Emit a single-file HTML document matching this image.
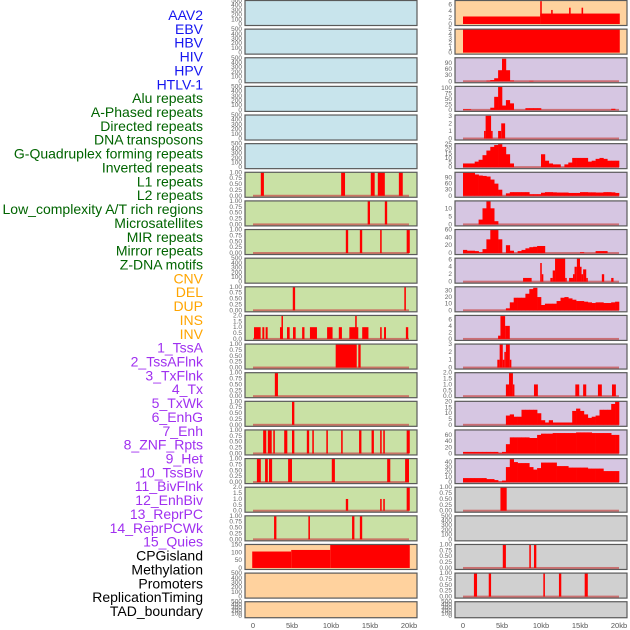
<!DOCTYPE html>
<html><head><meta charset="utf-8"><style>
html,body{margin:0;padding:0;background:#fff;}
svg{display:block;font-family:"Liberation Sans",sans-serif;}
</style></head><body>
<svg id="chart" width="630" height="630" viewBox="0 0 630 630"></svg>
<script>
// ---- labels ----
const labelNames = ["AAV2","EBV","HBV","HIV","HPV","HTLV-1","Alu repeats","A-Phased repeats","Directed repeats","DNA transposons","G-Quadruplex forming repeats","Inverted repeats","L1 repeats","L2 repeats","Low_complexity A/T rich regions","Microsatellites","MIR repeats","Mirror repeats","Z-DNA motifs","CNV","DEL","DUP","INS","INV","1_TssA","2_TssAFlnk","3_TxFlnk","4_Tx","5_TxWk","6_EnhG","7_Enh","8_ZNF_Rpts","9_Het","10_TssBiv","11_BivFlnk","12_EnhBiv","13_ReprPC","14_ReprPCWk","15_Quies","CPGisland","Methylation","Promoters","ReplicationTiming","TAD_boundary"];
const labelGroups = [6,13,5,15,5];
const groupColors = ["#1515f0","#006400","#ffa500","#a030f0","#000000"];
const xTickLabels = ["0","5kb","10kb","15kb","20kb"];
const xTickValues = [0,5,10,15,20];

// ---- left column panels ----
const leftBg = ["b","b","b","b","b","b","g","g","g","g","g","g","g","g","g","g","g","g","g","o","o","o"];
const leftYmax = [500,500,500,500,500,500,1,1,1,500,1,2,1,1,1,1,1,2,1,150,500,500];
const L6 = [[1.0,1.4,1],[11.3,11.8,1],[15.1,15.6,1],[16.0,16.9,1],[18.7,19.2,1]];
const L7 = [[14.7,15.0,1],[16.9,17.2,1]];
const L8 = [[11.9,12.2,1],[13.7,14.0,1],[16.3,16.5,1],[19.7,20.1,1]];
const L10 = [[5.1,5.4,1],[19.4,19.6,1]];
const L11 = [[0.13,0.98,1],[1.2,1.45,1],[1.62,1.88,1],[3.46,3.8,1],[3.65,3.8,2],[4.36,4.7,1],[5.13,5.47,1],[6.3,6.6,1],[7.3,8.2,1],[9.5,10.2,1],[11.0,11.4,1],[12.35,13.5,1],[13.1,13.3,2],[14.0,14.8,1],[16.3,16.5,1],[16.8,17.05,1],[19.6,19.9,1]];
const L12 = [[10.6,13.3,1],[13.5,13.8,1]];
const L13 = [[2.8,3.2,1]];
const L14 = [[5.0,5.3,1]];
const L15 = [[1.3,1.7,1],[1.9,2.4,1],[2.6,2.8,1],[4.0,4.4,1],[5.0,5.3,1],[6.9,7.2,1],[7.6,7.8,1],[9.4,9.6,1],[11.3,11.5,1],[13.6,13.9,1],[15.2,15.5,1],[16.3,16.5,1],[16.7,16.9,1],[19.7,20.1,1]];
const L16 = [[0.5,1.0,1],[1.55,1.9,1],[2.05,2.45,1],[4.5,5.0,1],[10.1,10.5,1],[17.2,17.6,1],[19.5,20.0,1]];
const L17 = [[11.9,12.2,1],[16.3,16.5,1],[16.7,16.9,1],[19.7,20.1,2]];
const L18 = [[2.7,3.0,1],[7.1,7.3,1],[12.7,13.0,1],[13.7,14.0,1]];
const L19 = [[-0.1,4.9,105],[4.9,9.9,115],[9.9,20.1,150]];
const leftIntervals = {6:L6,7:L7,8:L8,10:L10,11:L11,12:L12,13:L13,14:L14,15:L15,16:L16,17:L17,18:L18,19:L19};

// ---- right column panels ----
const rightBg = ["o","o","p","p","p","p","p","p","p","p","p","p","p","p","p","p","p","y","y","y","y","y"];
const rightYmax = [7.2,5,117,108,3.1,25.5,116,14.6,60,6.3,35.5,7.2,3,2,20.3,76,47,1,500,1,1,500];
const rightTicks = [[0,2,4,6],[0,1,2,3,4,5],[0,30,60,90],[0,25,50,75,100],[0,1,2,3],[0,5,10,15,20,25],[0,30,60,90],[0,5,10],[0,20,40,60],[0,2,4,6],[0,10,20,30],[0,2,4,6],[0,1,2,3],[0,0.5,1,1.5,2],[0,5,10,15,20],[0,20,40,60],[0,10,20,30,40],[0,0.25,0.5,0.75,1],[0,100,200,300,400,500],[0,0.25,0.5,0.75,1],[0,0.25,0.5,0.75,1],[0,100,200,300,400,500]];
const tickDec = [0,0,0,0,0,0,0,0,0,0,0,0,0,1,0,0,0,2,0,2,2,0];
const R0 = [[0,9.9,2.3],[9.9,20.1,3.2],[9.9,10.1,7],[11.3,11.5,4.3],[13.6,13.8,5],[15.2,15.4,5]];
const R1 = [[0,20.1,5]];
const R4 = [[2.7,2.9,1],[2.9,3.6,3],[3.6,3.8,1],[4.5,4.9,1],[4.9,5.4,2]];
const R9 = [[7.7,8.8,1],[9.9,10.1,5],[10.1,10.3,2],[11.2,11.5,1],[11.5,11.8,3],[11.8,13.1,7],[13.1,13.3,1],[13.6,14.1,1],[14.1,14.3,2],[14.3,14.6,4],[14.6,15.0,7],[15.0,15.2,4],[15.2,15.4,2],[15.4,15.8,3.3],[15.8,16.0,1],[17.8,18.1,2],[19.0,19.3,1]];
const R11 = [[4.5,4.8,1],[4.8,5.4,7],[5.4,6.0,4]];
const R12 = [[4.4,4.7,1],[4.7,5.1,3],[5.1,5.3,1],[5.3,5.5,2],[5.5,6.0,3],[6.0,6.2,1]];
const R13 = [[5.5,5.9,1],[5.9,6.4,2],[6.4,6.5,1],[9.1,9.6,1],[14.4,14.9,1],[15.4,15.8,1],[17.3,17.8,1],[19.1,19.6,1]];
const R17 = [[4.8,5.6,1]];
const R19 = [[5.1,5.5,1],[8.5,8.7,1],[9.1,9.4,1]];
const R20 = [[1.4,1.8,1],[3.3,3.6,1],[10.3,10.5,1],[12.3,12.6,1],[15.6,16.0,1]];
const rightIntervals = {0:R0,1:R1,4:R4,9:R9,11:R11,12:R12,13:R13,17:R17,19:R19,20:R20};
// histogram bins, 0.5kb each
const B2 = [0,0,0,0,0,0,3,6,15,55,112,55,4,0,0,0,0,2,0,0,0,0,0,0,0,0,0,0,0,0,0,0,0,0,0,0,0,0,0,0];
const B3 = [3,3,0,0,0,0,0,10,60,105,20,45,30,0,0,0,8,8,8,8,0,0,0,0,0,0,0,0,0,0,0,0,0,0,0,0,0,0,5,0];
const B5 = [4,4,4,6,8,13,18,22,24,25,22,14,4,0,0,0,0,0,0,0,14,7,4,3,3,0,3,5,10,10,10,10,6,7,9,10,9,7,7,7];
const B6 = [116,116,116,105,100,98,95,80,60,30,0,12,18,18,18,18,18,8,8,8,15,18,18,17,16,16,16,14,14,14,18,18,17,17,16,16,18,18,17,14];
const B7 = [0,0,0,0,3,10,15,10,2,0,0,0,0,0,0,0,0,0,0,0,0,0,0,0,0,0,0,0,0,0,0,0,0,0,0,0,0,0,0,0];
const B8 = [8,6,6,5,2,10,35,60,60,35,0,20,6,0,5,8,12,15,16,18,18,0,0,0,0,0,0,0,0,0,2,0,0,0,5,5,5,0,0,0];
const B10 = [0,0,0,0,0,0,0,0,0,0,0,3,12,19,19,19,25,32,34,20,8,10,10,10,14,19,20,18,16,14,14,13,12,11,12,12,11,11,12,13];
const B14 = [0,0,0,0,0,0,0,0,0,0,0,8,9,7,7,13,13,13,13,10,4,2,4,2,2,2,2,2,12,14,12,9,6,7,8,13,13,13,18,21];
const B15 = [5,5,5,5,5,5,5,5,5,2,5,30,52,52,52,52,52,50,50,60,64,64,64,66,66,66,66,66,66,68,68,68,68,66,66,66,66,66,60,60];
const B16 = [8,8,8,8,8,8,6,6,4,1,3,30,46,40,38,38,38,30,25,28,39,39,39,39,32,32,32,29,29,29,29,29,27,27,27,27,22,22,22,22];
const rightBins = {2:B2,3:B3,5:B5,6:B6,7:B7,8:B8,10:B10,14:B14,15:B15,16:B16};

const bgColors = {b:"#c8e4ec",g:"#c9e1a5",o:"#ffd29e",p:"#d6c6e2",y:"#d0d0d0"};
const NS = "http://www.w3.org/2000/svg";
const svg = document.getElementById("chart");
function mk(tag, attrs, parent){
  const e = document.createElementNS(NS, tag);
  for (const k in attrs) e.setAttribute(k, attrs[k]);
  (parent||svg).appendChild(e);
  return e;
}
const ROWS = 22;
function rowTop(i){ return 0.5 + i*28.63; }
function rowH(i){ return i===21 ? 16 : 25; }
function xScale(col, kb){ return (col===0 ? 253 : 463) + kb*7.8; }
function yScale(i, ymax, v){ const t=rowTop(i), h=rowH(i); const y0=t+h-1.5; return y0 - (v/ymax)*(h-1.5); }

// labels
let li=0;
labelGroups.forEach((n,g)=>{
  for(let k=0;k<n;k++,li++){
    const t = mk("text",{x:203,y:(20+li*13.86).toFixed(1),"text-anchor":"end","font-size":"14",fill:groupColors[g]});
    
    
    t.textContent = labelNames[li];
  }
});

function drawPanel(col, i, bg, ymax, ticks, dec, intervals, bins, baseline){
  const x0 = col===0 ? 245 : 455, w = 172;
  const t = rowTop(i), h = rowH(i);
  const g = mk("g",{});
  
  
  mk("rect",{x:x0,y:t,width:w,height:h,fill:bgColors[bg]},g);
  if (baseline){
    const bl = mk("rect",{x:xScale(col,0),y:yScale(i,ymax,0)-1,width:xScale(col,20)-xScale(col,0),height:2,fill:"#c85050","fill-opacity":"0.75"},g);
    
    
  }
  if (bins){
    bins.forEach((v,k)=>{
      if(!v) return;
      const y = yScale(i,ymax,Math.min(v,ymax));
      const r = mk("rect",{x:xScale(col,k*0.5),y:y,width:0.5*7.8+0.3,height:yScale(i,ymax,0)-y,fill:"#ff0000"},g);
      
      
    });
  }
  if (intervals){
    intervals.forEach(iv=>{
      const y = yScale(i,ymax,Math.min(iv[2],ymax));
      const xa = xScale(col,iv[0]), xb = xScale(col,iv[1]);
      const r = mk("rect",{x:xa,y:y,width:Math.max(xb-xa,1.5),height:yScale(i,ymax,0)-y,fill:"#ff0000"},g);
      
      
    });
  }
  mk("rect",{x:x0,y:t,width:w,height:h,fill:"none",stroke:"#5a5a5a","stroke-width":"1.2"},g);
  ticks.forEach(v=>{
    const tt = mk("text",{x:x0-3,y:(yScale(i,ymax,v)+2).toFixed(1),"text-anchor":"end","font-size":"6.5",fill:"#666"},g);
    
    
    tt.textContent = v.toFixed(dec);
  });
}

const t500=[0,100,200,300,400,500], t1=[0,0.25,0.5,0.75,1], t2=[0,0.5,1,1.5,2], t150=[0,50,100,150];
for (let i=0;i<ROWS;i++){
  const ym = leftYmax[i];
  let ticks = ym===500?t500:ym===1?t1:ym===2?t2:t150;
  let dec = ym===1?2:ym===2?1:0;
  const iv = leftIntervals[i];
  drawPanel(0,i,leftBg[i],ym,ticks,dec,iv,null, !!iv && leftBg[i]==="g");
  const rb = rightBins[i], ri = rightIntervals[i];
  drawPanel(1,i,rightBg[i],rightYmax[i],rightTicks[i],tickDec[i],ri,rb, (rb||ri) && i>1);
}
// x ticks
[0,1].forEach(col=>{
  xTickValues.forEach((v,k)=>{
    const t = mk("text",{x:xScale(col,v),y:628,"text-anchor":"middle","font-size":"7.5",fill:"#555"});
    
    
    t.textContent = xTickLabels[k];
  });
});
</script>
</body></html>
